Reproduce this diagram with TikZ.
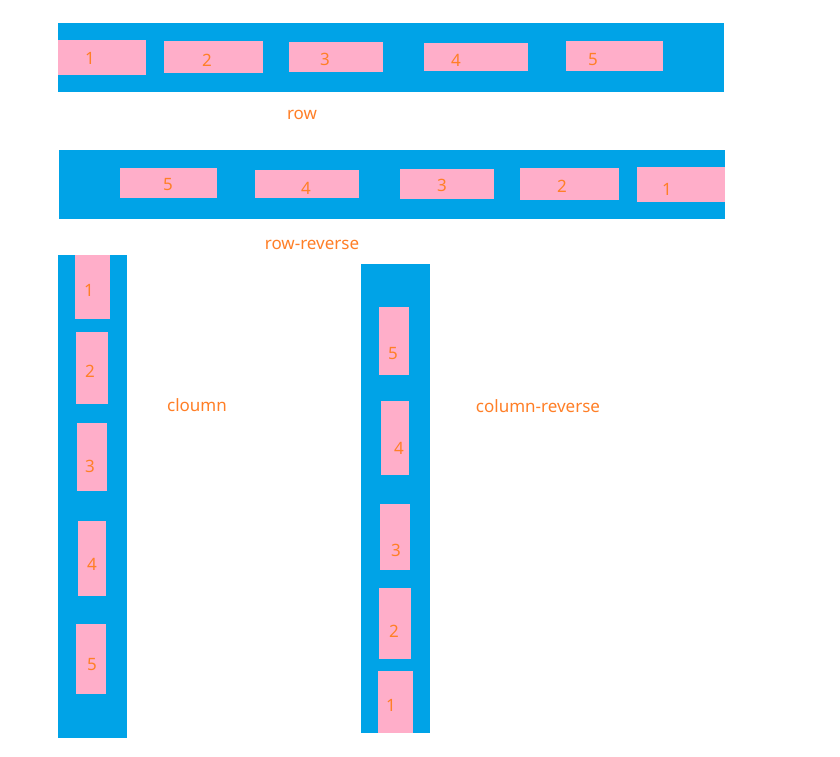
\documentclass[tikz,border=0pt]{standalone}
\usepackage{fontspec}
\setmainfont{Noto Sans}
\definecolor{cblue}{RGB}{0,163,231}
\definecolor{cpink}{RGB}{255,174,201}
\definecolor{corange}{RGB}{255,127,39}
\tikzset{
  blk/.style={draw=none, inner sep=0pt, outer sep=0pt},
  container/.style={blk, fill=cblue},
  pinkbox/.style={blk, fill=cpink},
  lbl/.style={inner sep=0pt, text=corange, font=\fontsize{17}{19}\selectfont},
  caption/.style={inner sep=0pt, text=corange, font=\fontsize{17}{19}\selectfont}
}
% #1 name, #2 style, #3 x1, #4 y1, #5 x2, #6 y2
\newcommand{\myrect}[6]{\node[#2, minimum width={(#5-#3)*1pt}, minimum height={(#6-#4)*1pt}] (#1) at ({(#3+#5)/2},{(#4+#6)/2}) {};}
\begin{document}
\begin{tikzpicture}[x=1pt,y=-1pt]
\useasboundingbox (0,0) rectangle (840,757);
\fill[white] (0,0) rectangle (840,757);
% row
\myrect{rowc}{container}{58}{23}{724}{92}
\myrect{ra}{pinkbox}{58}{40}{146}{75}
\myrect{rb}{pinkbox}{164}{41}{263}{73}
\myrect{rc}{pinkbox}{289}{42}{383}{72}
\myrect{rd}{pinkbox}{424}{43}{528}{71}
\myrect{re}{pinkbox}{566}{41}{663}{71}
\node[lbl] (ta) at (90,58) {1};
\node[lbl] (tb) at (207,60) {2};
\node[lbl] (tc) at (325,59) {3};
\node[lbl] (td) at (456,60) {4};
\node[lbl] (te) at (593,60) {5};
\node[caption] (caprow) at (302,115) {row};
% row-reverse
\myrect{rrc}{container}{59}{150}{725}{219}
\myrect{rre}{pinkbox}{120}{168}{217}{198}
\myrect{rrd}{pinkbox}{255}{170}{359}{198}
\myrect{rrcc}{pinkbox}{400}{169}{494}{199}
\myrect{rrb}{pinkbox}{520}{168}{619}{200}
\myrect{rra}{pinkbox}{637}{167}{725}{202}
\node[lbl] (tre) at (168,185) {5};
\node[lbl] (trd) at (306,188) {4};
\node[lbl] (trc) at (442,185) {3};
\node[lbl] (trb) at (562,186) {2};
\node[lbl] (tra) at (667,189) {1};
\node[caption] (caprr) at (312,245) {row-reverse};
% column
\myrect{colc}{container}{58}{255}{127}{738}
\myrect{ca}{pinkbox}{75}{255}{110}{319}
\myrect{cb}{pinkbox}{76}{332}{108}{404}
\myrect{cc}{pinkbox}{77}{423}{107}{491}
\myrect{cd}{pinkbox}{78}{521}{106}{596}
\myrect{ce}{pinkbox}{76}{624}{106}{694}
\node[lbl] (tca) at (89,290) {1};
\node[lbl] (tcb) at (90,371) {2};
\node[lbl] (tcc) at (90,466) {3};
\node[lbl] (tcd) at (92,564) {4};
\node[lbl] (tce) at (92,665) {5};
\node[caption] (capcol) at (197,405) {cloumn};
% column-reverse
\myrect{crc}{container}{361}{264}{430}{733}
\myrect{cre}{pinkbox}{379}{307}{409}{375}
\myrect{crd}{pinkbox}{381}{401}{409}{475}
\myrect{crcc}{pinkbox}{380}{504}{410}{570}
\myrect{crb}{pinkbox}{379}{588}{411}{659}
\myrect{cra}{pinkbox}{378}{671}{413}{733}
\node[lbl] (tcre) at (393,354) {5};
\node[lbl] (tcrd) at (399,448) {4};
\node[lbl] (tcrc) at (396,550) {3};
\node[lbl] (tcrb) at (394,631) {2};
\node[lbl] (tcra) at (391,705) {1};
\node[caption] (capcr) at (538,406) {column-reverse};
\end{tikzpicture}
\end{document}
